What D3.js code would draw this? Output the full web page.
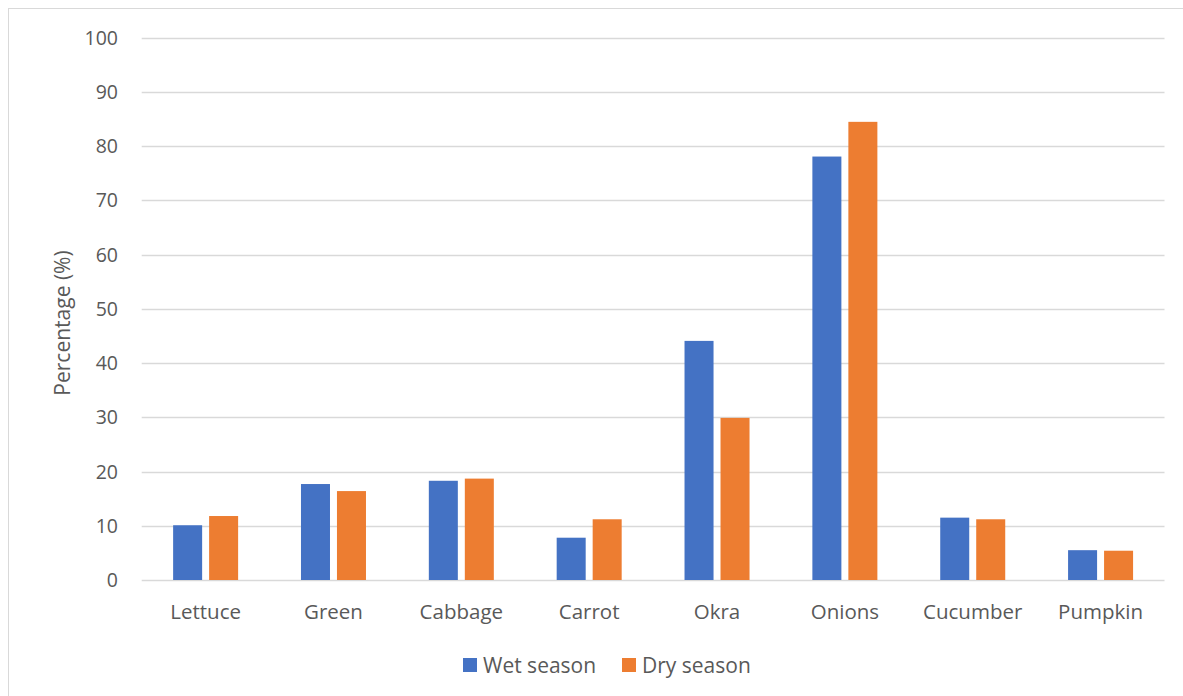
<!DOCTYPE html>
<html>
<head>
<meta charset="utf-8">
<script src="https://cdn.jsdelivr.net/npm/d3@7"></script>
<style>
  html, body { margin: 0; padding: 0; background: #fff; }
  svg { display: block; font-family: "Open Sans", sans-serif; }
</style>
</head>
<body>
<svg id="chart" width="1183" height="696"></svg>
<script>
const categories = ["Lettuce", "Green", "Cabbage", "Carrot", "Okra", "Onions", "Cucumber", "Pumpkin"];
const seriesNames = ["Wet season", "Dry season"];
const wetSeason = [10.1, 17.7, 18.3, 7.8, 44.1, 78.1, 11.5, 5.5];
const drySeason = [11.8, 16.4, 18.7, 11.2, 29.9, 84.5, 11.2, 5.4];
const yTicks = [0, 10, 20, 30, 40, 50, 60, 70, 80, 90, 100];
const colors = ["#4472C4", "#ED7D31"];

const svg = d3.select("#chart");
const textColor = "#595959";
const gridColor = "#D9D9D9";

// outer chart frame (runs off the right and bottom edges)
svg.append("rect")
  .attr("x", 8.5).attr("y", 8.5)
  .attr("width", 1190).attr("height", 700)
  .attr("fill", "none")
  .attr("stroke", gridColor)
  .attr("stroke-width", 1);

const plot = { left: 141.7, right: 1164.5, top: 37.8, bottom: 580 };

const y = d3.scaleLinear().domain([0, 100]).range([plot.bottom, plot.top]);
const x0 = d3.scaleBand().domain(categories).range([plot.left, plot.right]).padding(0);
const groupW = 65;
const x1 = d3.scaleBand().domain(seriesNames)
  .range([(x0.bandwidth() - groupW) / 2, (x0.bandwidth() + groupW) / 2])
  .paddingInner(0.194).paddingOuter(0);

// gridlines
svg.append("g")
  .selectAll("line")
  .data(yTicks)
  .join("line")
  .attr("x1", plot.left).attr("x2", plot.right)
  .attr("y1", d => Math.round(y(d)) + 0.5).attr("y2", d => Math.round(y(d)) + 0.5)
  .attr("stroke", gridColor)
  .attr("stroke-width", 1.3);

// y tick labels
svg.append("g")
  .selectAll("text")
  .data(yTicks)
  .join("text")
  .attr("x", 118)
  .attr("y", d => y(d))
  .attr("dy", "0.36em")
  .attr("text-anchor", "end")
  .attr("fill", textColor)
  .style("font-size", "19.5px")
  .text(d => d);

// bars
const rows = categories.map((c, i) => ({ cat: c, values: [wetSeason[i], drySeason[i]] }));
const groups = svg.append("g")
  .selectAll("g")
  .data(rows)
  .join("g")
  .attr("transform", d => `translate(${x0(d.cat)},0)`);

groups.selectAll("rect")
  .data(d => d.values.map((v, j) => ({ name: seriesNames[j], value: v, idx: j })))
  .join("rect")
  .attr("x", d => x1(d.name))
  .attr("width", x1.bandwidth())
  .attr("y", d => y(d.value))
  .attr("height", d => y(0) - y(d.value))
  .attr("fill", d => colors[d.idx]);

// category labels
svg.append("g")
  .selectAll("text")
  .data(categories)
  .join("text")
  .attr("x", d => x0(d) + x0.bandwidth() / 2)
  .attr("y", 619)
  .attr("text-anchor", "middle")
  .attr("fill", textColor)
  .style("font-size", "20.5px")
  .text(d => d);

// y axis title
svg.append("text")
  .attr("transform", "translate(70,323) rotate(-90)")
  .attr("text-anchor", "middle")
  .attr("fill", textColor)
  .style("font-size", "21px")
  .text("Percentage (%)");

// legend
const legendX = [463, 622];
const legend = svg.append("g")
  .selectAll("g")
  .data(seriesNames)
  .join("g")
  .attr("transform", (d, i) => `translate(${legendX[i]},658)`);

legend.append("rect")
  .attr("width", 14).attr("height", 14)
  .attr("fill", (d, i) => colors[i]);

legend.append("text")
  .attr("x", 20)
  .attr("y", 14.5)
  .attr("fill", textColor)
  .style("font-size", "21px")
  .text(d => d);
</script>
</body>
</html>
